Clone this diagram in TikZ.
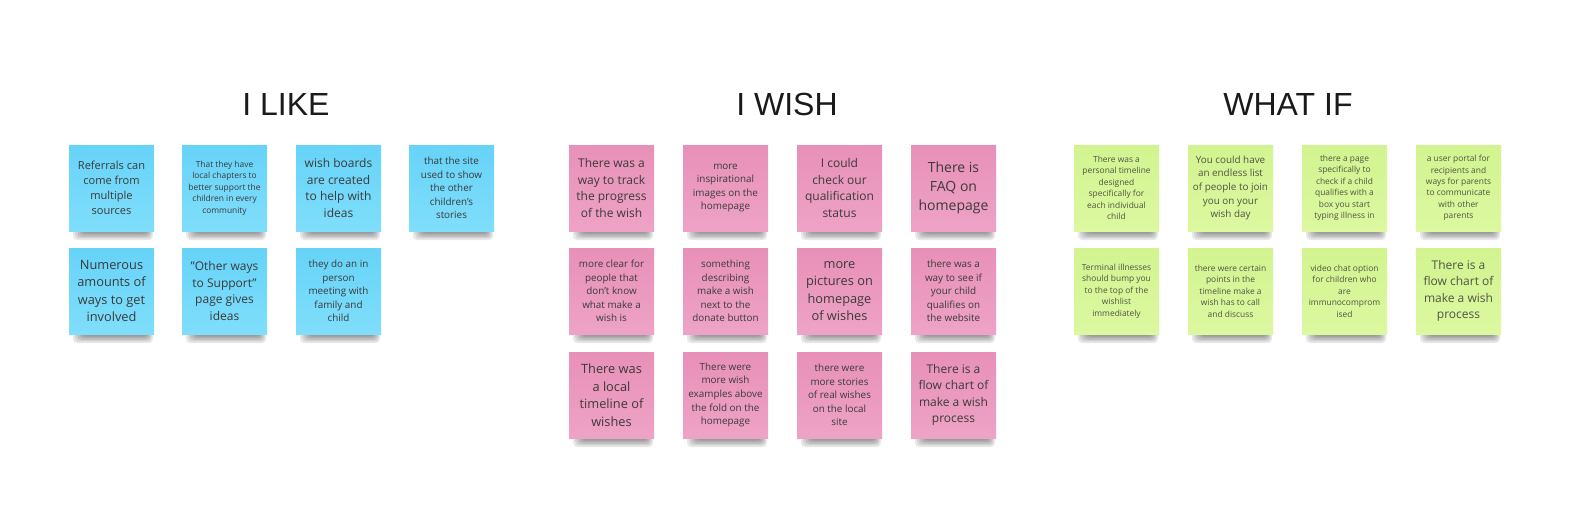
\documentclass[tikz,border=0pt]{standalone}
\usepackage{fontspec}
\setmainfont{Open Sans}
\newfontfamily\titlefont{Liberation Sans}
\definecolor{bluetop}{RGB}{102,211,248}
\definecolor{bluebot}{RGB}{128,222,251}
\definecolor{pinktop}{RGB}{232,144,184}
\definecolor{pinkbot}{RGB}{238,163,198}
\definecolor{greentop}{RGB}{210,244,144}
\definecolor{greenbot}{RGB}{220,248,160}
\definecolor{txt}{RGB}{58,58,58}
\definecolor{gtxt}{RGB}{80,84,66}
\definecolor{ttl}{RGB}{26,26,26}
\tikzset{
  sA/.style={font=\fontsize{6.3pt}{8.6pt}\selectfont},
  sB/.style={font=\fontsize{7.4pt}{10.2pt}\selectfont},
  sC/.style={font=\fontsize{8.3pt}{11.25pt}\selectfont},
  sD/.style={font=\fontsize{9pt}{12.3pt}\selectfont},
  sE/.style={font=\fontsize{9.6pt}{13.1pt}\selectfont},
  sF/.style={font=\fontsize{10.5pt}{14.3pt}\selectfont},
  blue/.style={top color=bluetop,bottom color=bluebot,text=txt},
  pink/.style={top color=pinktop,bottom color=pinkbot,text=txt},
  green/.style={top color=greentop,bottom color=greenbot,text=gtxt},
  sticky/.style={minimum width=63.75pt,minimum height=64.5pt,inner sep=0pt,align=center},
  shadlayer/.style={fill=black,opacity=0.09,rounded corners=3pt},
  title/.style={font=\titlefont\fontsize{24pt}{28pt}\selectfont,text=ttl,anchor=base}
}
% \stick{name}{x}{y}{colour style}{size style}{text}
\newcommand\stick[6]{%
  \begin{scope}[shift={(#2,#3)}]
    \foreach \k in {0,...,6}{
      \path[shadlayer] ({4+2.2*\k},76) rectangle ({84-1.3*\k},{95-1.6*\k});
    }
    \node[sticky,#4,#5] (#1) at (42.5,43) {#6};
  \end{scope}}
\begin{document}
\begin{tikzpicture}[x=0.75pt,y=-0.75pt]
\useasboundingbox[fill=white] (0,0) rectangle (1572,519);
\node[title] (tlike) at (286,115) {I LIKE};
\node[title] (twish) at (787,115) {I WISH};
\node[title] (twhat) at (1288,115) {WHAT IF};
% I LIKE
\stick{l1}{69}{145}{blue}{sC}{Referrals can\\come from\\multiple\\sources}
\stick{l2}{182}{145}{blue}{sA}{That they have\\local chapters to\\better support the\\children in every\\community}
\stick{l3}{296}{145}{blue}{sD}{wish boards\\are created\\to help with\\ideas}
\stick{l4}{409}{145}{blue}{sB}{that the site\\used to show\\the other\\children's\\stories}
\stick{l5}{69}{248}{blue}{sE}{Numerous\\amounts of\\ways to get\\involved}
\stick{l6}{182}{248}{blue}{sD}{"Other ways\\to Support"\\page gives\\ideas}
\stick{l7}{296}{248}{blue}{sB}{they do an in\\person\\meeting with\\family and\\child}
% I WISH
\stick{w1}{569}{145}{pink}{sD}{There was a\\way to track\\the progress\\of the wish}
\stick{w2}{683}{145}{pink}{sB}{more\\inspirational\\images on the\\homepage}
\stick{w3}{797}{145}{pink}{sD}{I could\\check our\\qualification\\status}
\stick{w4}{911}{145}{pink}{sF}{There is\\FAQ on\\homepage}
\stick{w5}{569}{248}{pink}{sB}{more clear for\\people that\\don't know\\what make a\\wish is}
\stick{w6}{683}{248}{pink}{sB}{something\\describing\\make a wish\\next to the\\donate button}
\stick{w7}{797}{248}{pink}{sE}{more\\pictures on\\homepage\\of wishes}
\stick{w8}{911}{248}{pink}{sB}{there was a\\way to see if\\your child\\qualifies on\\the website}
\stick{w9}{569}{352}{pink}{sE}{There was\\a local\\timeline of\\wishes}
\stick{w10}{683}{352}{pink}{sB}{There were\\more wish\\examples above\\the fold on the\\homepage}
\stick{w11}{797}{352}{pink}{sB}{there were\\more stories\\of real wishes\\on the local\\site}
\stick{w12}{911}{352}{pink}{sD}{There is a\\flow chart of\\make a wish\\process}
% WHAT IF
\stick{f1}{1074}{145}{green}{sA}{There was a\\personal timeline\\designed\\specifically for\\each individual\\child}
\stick{f2}{1188}{145}{green}{sB}{You could have\\an endless list\\of people to join\\you on your\\wish day}
\stick{f3}{1302}{145}{green}{sA}{there a page\\specifically to\\check if a child\\qualifies with a\\box you start\\typing illness in}
\stick{f4}{1416}{145}{green}{sA}{a user portal for\\recipients and\\ways for parents\\to communicate\\with other\\parents}
\stick{f5}{1074}{248}{green}{sA}{Terminal illnesses\\should bump you\\to the top of the\\wishlist\\immediately}
\stick{f6}{1188}{248}{green}{sA}{there were certain\\points in the\\timeline make a\\wish has to call\\and discuss}
\stick{f7}{1302}{248}{green}{sA}{video chat option\\for children who\\are\\immunocomprom\\ised}
\stick{f8}{1416}{248}{green}{sD}{There is a\\flow chart of\\make a wish\\process}
\end{tikzpicture}
\end{document}
